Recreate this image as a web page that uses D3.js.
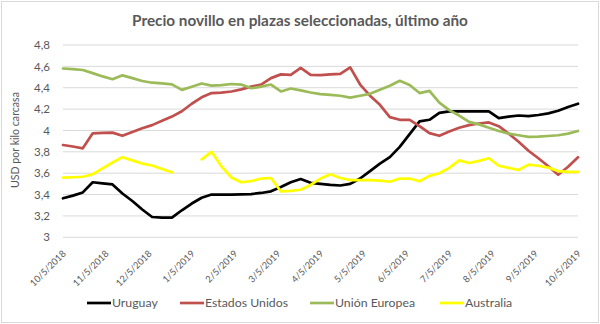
<!DOCTYPE html>
<html>
<head>
<meta charset="utf-8">
<script src="https://cdnjs.cloudflare.com/ajax/libs/d3/7.8.5/d3.min.js"></script>
<style>
  html, body { margin: 0; padding: 0; background: #fff; }
  svg { display: block; }
  text { font-family: Lato, "Open Sans", sans-serif; fill: #595959; }
</style>
</head>
<body>
<svg id="chart" width="600" height="324"></svg>
<script>
// ---- data ----
const monthLabels = ["10/5/2018","11/5/2018","12/5/2018","1/5/2019","2/5/2019","3/5/2019","4/5/2019","5/5/2019","6/5/2019","7/5/2019","8/5/2019","9/5/2019","10/5/2019"];
const yTicks = [3, 3.2, 3.4, 3.6, 3.8, 4, 4.2, 4.4, 4.6, 4.8];
const yTickLabels = ["3","3,2","3,4","3,6","3,8","4","4,2","4,4","4,6","4,8"];
const seriesNames = ["Uruguay","Estados Unidos","Unión Europea","Australia"];
const seriesColors = ["#000000","#C0504D","#9BBB59","#FFFF00"];

const uruguay = [3.365,3.39,3.42,3.515,3.505,3.495,3.41,3.34,3.26,3.19,3.185,3.184,3.253,3.316,3.37,3.40,3.40,3.40,3.402,3.405,
  3.415,3.43,3.47,3.515,3.545,3.51,3.50,3.49,3.485,3.50,3.55,3.62,3.69,3.75,3.847,3.966,4.085,4.10,4.165,4.178,
  4.178,4.178,4.178,4.178,4.115,4.13,4.14,4.135,4.145,4.16,4.185,4.22,4.25];
const estadosUnidos = [3.864,3.85,3.833,3.973,3.977,3.98,3.95,3.985,4.02,4.05,4.09,4.13,4.18,4.25,4.31,4.35,4.355,4.365,4.385,4.41,
  4.43,4.49,4.525,4.52,4.585,4.52,4.518,4.525,4.53,4.59,4.43,4.326,4.24,4.125,4.10,4.10,4.04,3.975,3.95,3.99,
  4.025,4.05,4.065,4.075,4.04,3.97,3.895,3.81,3.74,3.665,3.585,3.66,3.75];
const unionEuropea = [4.58,4.575,4.566,4.537,4.506,4.48,4.516,4.49,4.463,4.447,4.44,4.432,4.38,4.41,4.44,4.42,4.425,4.435,4.43,4.395,
  4.41,4.43,4.365,4.393,4.375,4.355,4.34,4.333,4.325,4.307,4.325,4.343,4.38,4.418,4.465,4.425,4.35,4.37,4.26,4.19,
  4.14,4.08,4.057,4.025,3.995,3.97,3.955,3.94,3.942,3.948,3.955,3.97,3.995];
const australia = [3.558,3.562,3.567,3.59,3.645,3.70,3.75,3.72,3.69,3.672,3.64,3.608,null,null,3.73,3.80,3.663,3.56,3.515,3.525,
  3.55,3.555,3.43,3.435,3.445,3.49,3.55,3.59,3.555,3.536,3.536,3.535,3.53,3.52,3.55,3.55,3.525,3.575,3.60,3.65,
  3.72,3.695,3.715,3.74,3.67,3.65,3.63,3.68,3.67,3.652,3.62,3.612,3.612];
const allSeries = [uruguay, estadosUnidos, unionEuropea, australia];

// ---- layout ----
const svg = d3.select("#chart");
const plot = {left: 63, right: 578, top: 45, bottom: 237.3};
const nPoints = uruguay.length;
const x = d3.scaleLinear().domain([0, nPoints - 1]).range([plot.left, plot.right]);
const y = d3.scaleLinear().domain([3, 4.8]).range([plot.bottom, plot.top]);

// border
svg.append("rect").attr("x", 1.5).attr("y", 1.5).attr("width", 597).attr("height", 321)
  .attr("fill", "#fff").attr("stroke", "#d9d9d9");

// title
svg.append("text").attr("x", 300).attr("y", 26).attr("text-anchor", "middle")
  .style("font-size", "15.3px").style("font-weight", "bold")
  .text("Precio novillo en plazas seleccionadas, último año");

// gridlines
svg.append("g").selectAll("line").data(yTicks).join("line")
  .attr("x1", plot.left).attr("x2", plot.right)
  .attr("y1", d => y(d)).attr("y2", d => y(d))
  .attr("stroke", "#d9d9d9").attr("stroke-width", 1);

// y axis
const yAxis = d3.axisLeft(y).tickValues(yTicks).tickSize(0).tickPadding(0)
  .tickFormat((d, i) => yTickLabels[i]);
const gy = svg.append("g").attr("transform", "translate(50,0)").call(yAxis);
gy.select(".domain").remove();
gy.selectAll("text").style("font-size", "11.5px").style("fill", "#595959")
  .style("font-family", "Lato, sans-serif");

// y axis title
svg.append("text").attr("transform", "translate(19,140) rotate(-90)")
  .attr("text-anchor", "middle").style("font-size", "10.6px")
  .text("USD por kilo carcasa");

// x axis
const monthPos = monthLabels.map((m, i) => i * (nPoints - 1) / (monthLabels.length - 1));
const xAxis = d3.axisBottom(x).tickValues(monthPos).tickSize(0)
  .tickFormat((d, i) => monthLabels[i]);
const gx = svg.append("g").attr("transform", `translate(0,${plot.bottom})`).call(xAxis);
gx.select(".domain").remove();
gx.selectAll("text")
  .attr("text-anchor", "end").attr("dy", null).attr("y", 0)
  .attr("transform", "translate(3,17) rotate(-45)")
  .style("font-size", "9.3px").style("fill", "#595959").style("font-family", "Lato, sans-serif");

// lines
const line = d3.line().defined(d => d != null).x((d, i) => x(i)).y(d => y(d));
allSeries.forEach((s, k) => {
  svg.append("path").datum(s).attr("d", line)
    .attr("fill", "none").attr("stroke", seriesColors[k])
    .attr("stroke-width", 2.7).attr("stroke-linejoin", "round").attr("stroke-linecap", "round");
});

// legend
const legendX = [87, 180, 310, 440];
const lg = svg.append("g").selectAll("g").data(seriesNames).join("g")
  .attr("transform", (d, i) => `translate(${legendX[i]},303)`);
lg.append("line").attr("x1", 0).attr("x2", 24).attr("y1", 0).attr("y2", 0)
  .attr("stroke", (d, i) => seriesColors[i]).attr("stroke-width", 2.7);
lg.append("text").attr("x", 25).attr("y", 4.3).style("font-size", "12.3px").text(d => d);
</script>
</body>
</html>
